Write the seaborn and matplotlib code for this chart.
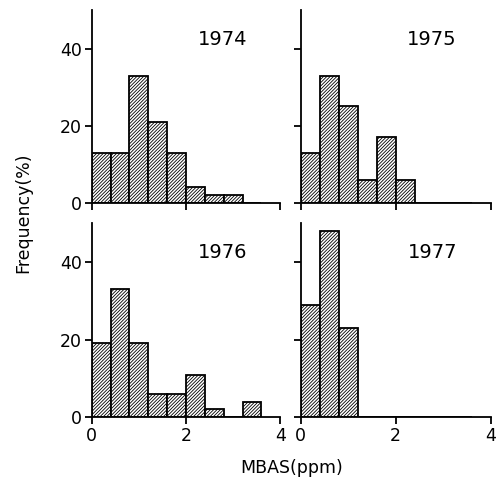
import matplotlib
matplotlib.use("Agg")
from matplotlib import pyplot as plt
import seaborn as sns
import pandas as pd

sns.set_style("ticks")
plt.rcParams['font.family'] = ['DejaVu Sans']
plt.rcParams['hatch.linewidth'] = 0.6
plt.rcParams['text.color'] = 'black'
plt.rcParams['xtick.color'] = 'black'
plt.rcParams['ytick.color'] = 'black'
plt.rcParams['axes.edgecolor'] = 'black'

# bin left edges, ppm (width 0.4)
bin_left = [0.0, 0.4, 0.8, 1.2, 1.6, 2.0, 2.4, 2.8, 3.2]
bin_edges = [0.0, 0.4, 0.8, 1.2, 1.6, 2.0, 2.4, 2.8, 3.2, 3.6]
bin_width = 0.4

years = ['1974', '1975', '1976', '1977']
freq_1974 = [13, 13, 33, 21, 13, 4, 2, 2, 0]
freq_1975 = [13, 33, 25, 6, 17, 6, 0, 0, 0]
freq_1976 = [19, 33, 19, 6, 6, 11, 2, 0, 4]
freq_1977 = [29, 48, 23, 0, 0, 0, 0, 0, 0]

x_ticks = [0, 2, 4]
y_ticks = [0, 20, 40]

rows = []
for yr, vals in zip(years, [freq_1974, freq_1975, freq_1976, freq_1977]):
    for b, v in zip(bin_left, vals):
        rows.append({'year': yr, 'mbas': b + bin_width / 2, 'freq': v})
data = pd.DataFrame(rows)

fig = plt.figure(figsize=(4.98, 4.84), dpi=100)
pos = [
    [0.184, 0.581, 0.379, 0.398],
    [0.604, 0.581, 0.381, 0.398],
    [0.184, 0.138, 0.379, 0.401],
    [0.604, 0.138, 0.381, 0.401],
]

for i, yr in enumerate(years):
    ax = fig.add_axes(pos[i])
    sub = data[data['year'] == yr]
    sns.histplot(x='mbas', weights='freq', data=sub, bins=bin_edges, ax=ax,
                 color='white', edgecolor='black', linewidth=1.3, alpha=1,
                 hatch='//////////')
    ax.set_xlim(0, 4)
    ax.set_ylim(0, 50)
    ax.set_xticks(x_ticks)
    ax.set_yticks(y_ticks)
    ax.tick_params(direction='out', length=5, width=1.3, labelsize=12.5, pad=2)
    if i < 2:
        ax.set_xticklabels([])
    if i % 2 == 1:
        ax.set_yticklabels([])
    ax.set_xlabel('')
    ax.set_ylabel('')
    for s in ['left', 'bottom']:
        ax.spines[s].set_linewidth(1.3)
    sns.despine(ax=ax)
    ax.text(2.77, 42.5, yr, ha='center', va='center', fontsize=14)

fig.text(0.046, 0.56, 'Frequency(%)', rotation=90, ha='center', va='center', fontsize=12.5)
fig.text(0.585, 0.033, 'MBAS(ppm)', ha='center', va='center', fontsize=12.5)

plt.savefig('out.png', dpi=100)
